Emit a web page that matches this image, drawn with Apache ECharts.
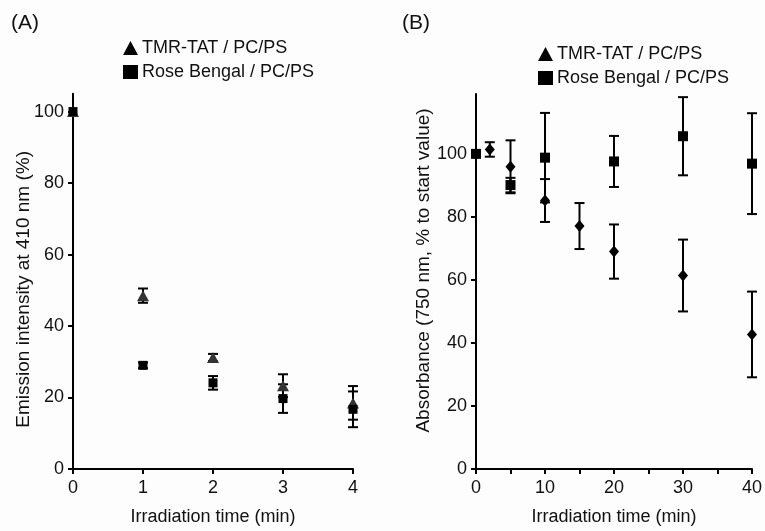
<!DOCTYPE html>
<html>
<head>
<meta charset="utf-8">
<script src="https://cdn.jsdelivr.net/npm/echarts@6/dist/echarts.min.js"></script>
<style>
html,body{margin:0;padding:0;background:#fdfdfd;}
#c{width:765px;height:531px;}
</style>
</head>
<body>
<div id="c"></div>
<script>
// ---- Data ----
var seriesNames = ['TMR-TAT / PC/PS', 'Rose Bengal / PC/PS'];

// Panel A: emission intensity at 410 nm (%)
var timeA = [0, 1, 2, 3, 4];
var tmrA = [100, 48.5, 31.2, 23.3, 18.5];
var tmrAErr = [0, 2.0, 1.0, 3.2, 4.7];
var rbA = [100, 29.0, 24.1, 19.7, 16.7];
var rbAErr = [0, 0.8, 1.9, 4.0, 5.0];

// Panel B: absorbance (750 nm, % to start value)
var timeBTmr = [0, 2, 5, 10, 15, 20, 30, 40];
var tmrB = [100, 101.4, 95.9, 85.2, 77.1, 69.0, 61.4, 42.7];
var tmrBErr = [0, 2.3, 8.4, 6.8, 7.3, 8.6, 11.4, 13.6];
var timeBRb = [0, 5, 10, 20, 30, 40];
var rbB = [100, 90.1, 98.8, 97.6, 105.6, 96.9];
var rbBErr = [0, 2.3, 14.2, 8.1, 12.4, 16.0];

var yTicksA = [0, 20, 40, 60, 80, 100];
var xTicksA = [0, 1, 2, 3, 4];
var yTicksB = [0, 20, 40, 60, 80, 100];
var xLabelsB = [0, 10, 20, 30, 40];
var xTicksB = [0, 5, 10, 15, 20, 25, 30, 35, 40];

// ---- Helpers ----
function pts(xs, ys) { return xs.map(function (x, i) { return [x, ys[i]]; }); }
function errPts(xs, ys, es) { return xs.map(function (x, i) { return [x, ys[i], es[i]]; }); }
function errRender(params, api) {
  var x = api.value(0), y = api.value(1), e = api.value(2);
  if (!e) return null;
  var top = api.coord([x, y + e]);
  var bot = api.coord([x, y - e]);
  var cw = 5;
  var st = { stroke: '#000', lineWidth: 2 };
  return {
    type: 'group',
    children: [
      { type: 'line', shape: { x1: top[0], y1: top[1], x2: bot[0], y2: bot[1] }, style: st },
      { type: 'line', shape: { x1: top[0] - cw, y1: top[1], x2: top[0] + cw, y2: top[1] }, style: st },
      { type: 'line', shape: { x1: bot[0] - cw, y1: bot[1], x2: bot[0] + cw, y2: bot[1] }, style: st }
    ]
  };
}

var FONT = 'Liberation Sans, Arial, sans-serif';
var axisLineStyle = { show: true, lineStyle: { color: '#000', width: 2 } };
var tickStyle = { show: true, length: 5, lineStyle: { color: '#000', width: 2 } };
var labelStyle = { color: '#111', fontSize: 18, fontFamily: FONT };
var nameStyle = { color: '#111', fontSize: 18, fontFamily: FONT };

var chart = echarts.init(document.getElementById('c'));
chart.setOption({
  backgroundColor: '#fdfdfd',
  animation: false,
  graphic: [
    { type: 'text', left: 11, top: 13, style: { text: '(A)', fontSize: 21, fontFamily: FONT, fill: '#111' } },
    { type: 'text', left: 402, top: 13, style: { text: '(B)', fontSize: 21, fontFamily: FONT, fill: '#111' } }
  ],
  legend: [
    {
      orient: 'vertical', left: 118, top: 34, itemWidth: 15, itemHeight: 14, itemGap: 6,
      textStyle: { fontSize: 18, fontFamily: FONT, color: '#111', padding: [0, 0, 0, -1] },
      data: [
        { name: seriesNames[0], icon: 'triangle', itemStyle: { color: '#000' } },
        { name: seriesNames[1], icon: 'rect', itemStyle: { color: '#000' } }
      ]
    },
    {
      orient: 'vertical', left: 533, top: 40, itemWidth: 15, itemHeight: 14, itemGap: 6,
      textStyle: { fontSize: 18, fontFamily: FONT, color: '#111', padding: [0, 0, 0, -1] },
      data: [
        { name: seriesNames[0], icon: 'triangle', itemStyle: { color: '#000' } },
        { name: seriesNames[1], icon: 'rect', itemStyle: { color: '#000' } }
      ]
    }
  ],
  grid: [
    { left: 73, top: 93.7, width: 280, height: 378, containLabel: false },
    { left: 476, top: 94, width: 280, height: 379.3, containLabel: false }
  ],
  xAxis: [
    {
      gridIndex: 0, type: 'value', min: 0, max: 4, interval: 1,
      name: 'Irradiation time (min)', nameLocation: 'middle', nameGap: 39, nameTextStyle: nameStyle,
      axisLine: axisLineStyle, axisTick: Object.assign({}, tickStyle, { customValues: xTicksA }),
      axisLabel: Object.assign({}, labelStyle, { margin: 10, customValues: xTicksA }),
      splitLine: { show: false }
    },
    {
      gridIndex: 1, type: 'value', min: 0, max: 40, interval: 5,
      name: 'Irradiation time (min)', nameLocation: 'middle', nameGap: 39, nameTextStyle: nameStyle,
      axisLine: axisLineStyle, axisTick: Object.assign({}, tickStyle, { customValues: xTicksB }),
      axisLabel: Object.assign({}, labelStyle, { margin: 10, customValues: xLabelsB }),
      splitLine: { show: false }
    }
  ],
  yAxis: [
    {
      gridIndex: 0, type: 'value', min: 0, max: 105, interval: 20,
      name: 'Emission intensity at 410 nm (%)', nameLocation: 'middle', nameGap: 40, nameMoveOverlap: false,
      nameTextStyle: Object.assign({}, nameStyle, { fontSize: 19, padding: [0, 16, 0, 0] }),
      axisLine: axisLineStyle, axisTick: Object.assign({}, tickStyle, { customValues: yTicksA }),
      axisLabel: Object.assign({}, labelStyle, { margin: 9, customValues: yTicksA }),
      splitLine: { show: false }
    },
    {
      gridIndex: 1, type: 'value', min: 0, max: 119, interval: 20,
      name: 'Absorbance (750 nm, % to start value)', nameLocation: 'middle', nameGap: 42,
      nameTextStyle: Object.assign({}, nameStyle, { fontSize: 19, padding: [0, 0, 0, 22] }),
      axisLine: axisLineStyle, axisTick: Object.assign({}, tickStyle, { customValues: yTicksB }),
      axisLabel: Object.assign({}, labelStyle, { margin: 9, customValues: yTicksB }),
      splitLine: { show: false }
    }
  ],
  series: [
    { type: 'custom', name: 'errA1', xAxisIndex: 0, yAxisIndex: 0, renderItem: errRender, data: errPts(timeA, tmrA, tmrAErr), z: 3 },
    { type: 'custom', name: 'errA2', xAxisIndex: 0, yAxisIndex: 0, renderItem: errRender, data: errPts(timeA, rbA, rbAErr), z: 3 },
    { type: 'scatter', name: seriesNames[0], xAxisIndex: 0, yAxisIndex: 0, symbol: 'triangle', symbolSize: [12, 11],
      itemStyle: { color: '#333', opacity: 1 }, data: pts(timeA, tmrA), z: 4 },
    { type: 'scatter', name: seriesNames[1], xAxisIndex: 0, yAxisIndex: 0, symbol: 'rect', symbolSize: 9,
      itemStyle: { color: '#000', opacity: 1 }, data: pts(timeA, rbA), z: 5 },
    { type: 'custom', name: 'errB1', xAxisIndex: 1, yAxisIndex: 1, renderItem: errRender, data: errPts(timeBTmr, tmrB, tmrBErr), z: 3 },
    { type: 'custom', name: 'errB2', xAxisIndex: 1, yAxisIndex: 1, renderItem: errRender, data: errPts(timeBRb, rbB, rbBErr), z: 3 },
    { type: 'scatter', name: seriesNames[0], xAxisIndex: 1, yAxisIndex: 1, symbol: 'diamond', symbolSize: [10, 12],
      itemStyle: { color: '#000', opacity: 1 }, data: pts(timeBTmr, tmrB), z: 4 },
    { type: 'scatter', name: seriesNames[1], xAxisIndex: 1, yAxisIndex: 1, symbol: 'rect', symbolSize: 10,
      itemStyle: { color: '#000', opacity: 1 }, data: pts(timeBRb, rbB), z: 5 }
  ]
});
</script>
</body>
</html>
